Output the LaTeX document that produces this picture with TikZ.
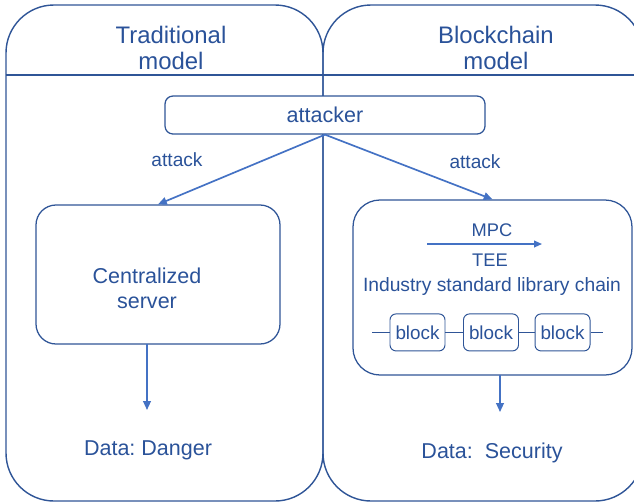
\documentclass[tikz,border=0pt]{standalone}
\usepackage{fontspec}
\setmainfont{Liberation Sans}
\usetikzlibrary{arrows.meta,positioning}
\definecolor{Frame}{HTML}{2F5597}
\definecolor{Flow}{HTML}{4472C4}
\definecolor{Ink}{HTML}{2A5299}
\frenchspacing

\begin{document}
\begin{tikzpicture}[
  panel/.style={draw=Frame,line width=1pt,rounded corners=1.2cm},
  title/.style={Ink,align=center,font=\fontsize{17}{18.5}\selectfont},
  attackerbox/.style={draw=Frame,line width=0.9pt,fill=white,rounded corners=2mm,minimum width=8cm,minimum height=0.95cm,font=\fontsize{15.3}{17}\selectfont,text=Ink},
  serverbox/.style={draw=Frame,line width=0.9pt,rounded corners=5mm,minimum width=6.1cm,minimum height=3.475cm},
  chainbox/.style={draw=Frame,line width=0.9pt,rounded corners=6.75mm,minimum width=6.975cm,minimum height=4.375cm},
  blockbox/.style={draw=Frame,line width=0.7pt,fill=white,rounded corners=1.5mm,minimum width=1.375cm,minimum height=0.925cm,inner sep=0pt,text=Ink,font=\fontsize{13.4}{15}\selectfont},
  lbl/.style={Ink,font=\fontsize{13.6}{15}\selectfont},
  big/.style={Ink,align=center,font=\fontsize{15.3}{17.7}\selectfont},
  arr/.style={-{Triangle[length=2.2mm,width=1.9mm]},line width=1.2pt,draw=Flow},
  thinarr/.style={-{Triangle[length=2mm,width=1.7mm]},line width=1pt,draw=Flow},
  link/.style={draw=Frame,line width=0.7pt}
]
\useasboundingbox (0,0) rectangle (15.85,-12.575);

% two columns
\draw[panel] (0.15,-0.125) rectangle (8.075,-12.525);
\draw[panel] (8.075,-0.125) rectangle (16.075,-12.525);
\draw[Frame,line width=0.9pt] (0.15,-1.875)--(16.075,-1.875);

\node[title] (tradtitle) at (4.275,-1.2) {Traditional\\model};
\node[title] (chaintitle) at (12.4,-1.2) {Blockchain\\model};

\node[attackerbox] (attacker) at (8.125,-2.875) {attacker};

% traditional side
\node[serverbox] (server) at (3.95,-6.8625) {};
\node[big] (servertext) at (3.675,-7.2) {Centralized\\server};
\coordinate (serverout) at (3.675,-8.6);
\coordinate (dangerin) at (3.675,-10.25);
\node[big] (danger) at (3.7,-11.25) {Data: Danger};

% blockchain side
\node[chainbox] (chain) at (12.3125,-7.1875) {};
\node[lbl,font=\fontsize{13}{15}\selectfont] (mpc) at (12.3,-5.75) {MPC};
\coordinate (mpcL) at (10.675,-6.1);
\coordinate (mpcR) at (13.55,-6.1);
\node[lbl,font=\fontsize{13}{15}\selectfont] (tee) at (12.25,-6.5) {TEE};
\node[lbl,font=\fontsize{13.7}{15}\selectfont] (industry) at (12.3,-7.175) {Industry standard library chain};

\coordinate (chainL) at (9.3,-8.31);
\coordinate (chainR) at (15.075,-8.31);
\node[blockbox] (blockA) at (10.4375,-8.31) {block};
\node[blockbox] (blockB) at (12.275,-8.31) {block};
\node[blockbox] (blockC) at (14.0625,-8.31) {block};
\draw[link] (chainL)--(blockA.west);
\draw[link] (blockA.east)--(blockB.west);
\draw[link] (blockB.east)--(blockC.west);
\draw[link] (blockC.east)--(chainR);

\coordinate (chainout) at (12.5,-9.375);
\coordinate (securityin) at (12.5,-10.3);
\node[big] (security) at (12.3,-11.325) {Data:\ \ Security};

% arrows
\draw[arr] (attacker.south)--(server.north);
\draw[arr] (attacker.south)--(chain.north);
\draw[thinarr] (mpcL)--(mpcR);
\draw[arr] (serverout)--(dangerin);
\draw[arr] (chainout)--(securityin);

\node[lbl] (attackL) at (4.425,-4.0) {attack};
\node[lbl] (attackR) at (11.875,-4.05) {attack};
\end{tikzpicture}
\end{document}
